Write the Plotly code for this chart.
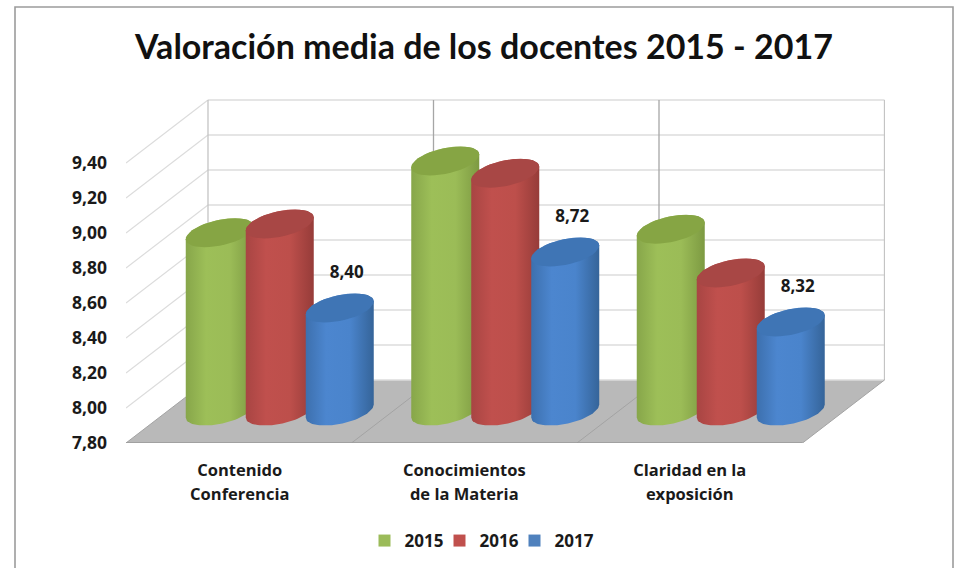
import math
import plotly.graph_objects as go

categories = ["Contenido<br>Conferencia", "Conocimientos<br>de la Materia", "Claridad en la<br>exposición"]
years = ["2015", "2016", "2017"]
values_2015 = [8.83, 9.24, 8.85]
values_2016 = [8.88, 9.17, 8.60]
values_2017 = [8.40, 8.72, 8.32]
y_ticks = [7.8, 8.0, 8.2, 8.4, 8.6, 8.8, 9.0, 9.2, 9.4]

series = [values_2015, values_2016, values_2017]
shades = [
    dict(body=["#87a64a", "#9dbf58", "#9bbc57", "#7d9a42"], cap="#86a544", solid="#9bbb59"),
    dict(body=["#a84543", "#c0504d", "#bd4f4b", "#963c39"], cap="#a84745", solid="#c0504d"),
    dict(body=["#3d70ae", "#4c86cf", "#4a84cc", "#356499"], cap="#3f75b5", solid="#4f81bd"),
]

# pixel-to-data scales of the pseudo 3D scene
PX_X, PX_Y = 225.5, 175.0
FIG_W, FIG_H = 959, 568
L, R, T, B = 126, 885, 98, 443
XMAX = (R - L) / PX_X
YMIN = 7.8
YMAX = YMIN + (B - T) / PX_Y
DX, DY = 82 / PX_X, 63 / PX_Y            # wall depth
TOP_SHIFT = 30 / PX_Y                    # cylinders stand inside the floor
BASE = YMIN + 32 / PX_Y
OFFSETS = [-19 / PX_X, 41 / PX_X, 101 / PX_X]
A, B_ELL, K = 34.0, 13.0, 6.5
TEXT = "#1a1a1a"
FONT = "Open Sans"


def arc(cx, cy, t0, t1, n=40):
    xs, ys = [], []
    for i in range(n + 1):
        t = t0 + (t1 - t0) * i / n
        xs.append(cx + A * math.cos(t) / PX_X)
        ys.append(cy + (K * math.cos(t) + B_ELL * math.sin(t)) / PX_Y)
    return xs, ys


def grad(cols):
    return [[0, cols[0]], [0.3, cols[1]], [0.65, cols[2]], [1, cols[3]]]


fig = go.Figure()

# real bars, kept for values and legend
for i, year in enumerate(years):
    fig.add_bar(
        x=[c + 0.5 + OFFSETS[i] for c in range(3)],
        y=[v + TOP_SHIFT - BASE for v in series[i]],
        base=BASE, width=0.8 * 2 * A / PX_X, name=year,
        marker=dict(color=shades[i]["solid"], line=dict(width=0)),
        hoverinfo="skip",
    )

# cylinder shading
for c in range(3):
    for i in range(3):
        cx = c + 0.5 + OFFSETS[i]
        top = series[i][c] + TOP_SHIFT
        xb, yb = arc(cx, BASE, math.pi, 2 * math.pi)
        xt, yt = arc(cx, top, 0, math.pi)
        fig.add_scatter(x=xb + xt, y=yb + yt, mode="lines", line=dict(width=0),
                        fill="toself", showlegend=False, hoverinfo="skip",
                        fillgradient=dict(type="horizontal", colorscale=grad(shades[i]["body"])))
        xc, yc = arc(cx, top, 0, 2 * math.pi)
        fig.add_scatter(x=xc, y=yc, mode="lines", line=dict(width=0), fill="toself",
                        fillcolor=shades[i]["cap"], showlegend=False, hoverinfo="skip")

# data labels (2017 only)
fig.add_scatter(
    x=[c + 0.5 + OFFSETS[2] + 7 / PX_X for c in range(3)],
    y=[v + TOP_SHIFT + 34 / PX_Y for v in values_2017],
    mode="text", showlegend=False, hoverinfo="skip",
    text=[f"{v:.2f}".replace(".", ",") for v in values_2017],
    textfont=dict(family=FONT, size=17, color=TEXT, weight="bold"),
    cliponaxis=False,
)

shapes = []
GRID = "#dcdcdc"
# floor
shapes.append(dict(type="path", layer="below", xref="x", yref="y", line=dict(width=0),
                   fillcolor="#b9b9b9",
                   path=f"M0,{YMIN} L{DX},{YMIN + DY} L{3 + DX},{YMIN + DY} L3,{YMIN} Z"))
# wall and side gridlines
for t in y_ticks:
    y_back = t + DY
    shapes.append(dict(type="line", layer="below", xref="x", yref="y", x0=DX, x1=3 + DX,
                       y0=y_back, y1=y_back, line=dict(color=GRID, width=1.5)))
    if t > YMIN:
        shapes.append(dict(type="line", layer="below", xref="x", yref="y", x0=0, x1=DX,
                           y0=t, y1=y_back, line=dict(color=GRID, width=1.2)))
# vertical wall lines and floor divisions
for c in range(4):
    col = "#a6a6a6" if c in (1, 2) else "#c4c4c4"
    shapes.append(dict(type="line", layer="below", xref="x", yref="y", x0=c + DX, x1=c + DX,
                       y0=YMIN + DY, y1=y_ticks[-1] + DY, line=dict(color=col, width=1.3)))
    shapes.append(dict(type="line", layer="below", xref="x", yref="y", x0=c, x1=c + DX,
                       y0=YMIN, y1=YMIN + DY, line=dict(color="#a3a3a3", width=1)))
shapes.append(dict(type="line", layer="below", xref="x", yref="y", x0=0, x1=3,
                   y0=YMIN, y1=YMIN, line=dict(color="#9a9a9a", width=1.5)))
# outer frame
PW, PH = R - L, B - T
shapes.append(dict(type="rect", layer="below", xref="paper", yref="paper",
                   x0=(15 - L) / PW, x1=(953 - L) / PW,
                   y0=(B - 590) / PH, y1=(B - 7) / PH,
                   line=dict(color="#9c9c9c", width=1.6)))

tick_style = "font-size:16.5px"
fig.update_layout(
    width=FIG_W, height=FIG_H, autosize=False,
    margin=dict(l=L, r=FIG_W - R, t=T, b=FIG_H - B, autoexpand=False),
    paper_bgcolor="white", plot_bgcolor="rgba(0,0,0,0)",
    separators=",.",
    barmode="overlay", showlegend=True,
    title=dict(text="<b>Valoración media de los docentes 2015 - 2017</b>",
               x=484 / FIG_W, xanchor="center", y=1 - 47 / FIG_H, yanchor="middle",
               font=dict(family="Lato", size=34, color="#111111")),
    xaxis=dict(range=[0, XMAX], tickvals=[0.5 + 1 / PX_X, 1.5, 2.5],
               ticktext=[f'<span style="{tick_style}">' + s.replace("<br>", f'</span><br><span style="{tick_style}">') + "</span>" for s in categories],
               showgrid=False, zeroline=False, showline=False, ticks="",
               ticklabelstandoff=13,
               tickfont=dict(family=FONT, size=18.5, color=TEXT, weight="bold")),
    yaxis=dict(range=[YMIN, YMAX], tickvals=y_ticks, tickformat=".2f",
               showgrid=False, zeroline=False, showline=False, ticks="",
               ticklabelstandoff=18,
               tickfont=dict(family=FONT, size=17.5, color=TEXT, weight="bold")),
    legend=dict(orientation="h", x=(477 - L) / PW, xanchor="center",
                y=(B - 541) / PH, yanchor="middle", traceorder="normal",
                entrywidth=30, entrywidthmode="pixels",
                font=dict(family=FONT, size=17, color=TEXT, weight="bold"),
                bgcolor="rgba(0,0,0,0)"),
    shapes=shapes,
)

post = (
    "document.body.style.margin='0';"
    "var s=document.createElement('style');"
    "s.textContent='.legend .scrollbox{clip-path:none !important}';"
    "document.head.appendChild(s);"
)
fig.write_html("out.html", config={"displayModeBar": False}, post_script=post)
